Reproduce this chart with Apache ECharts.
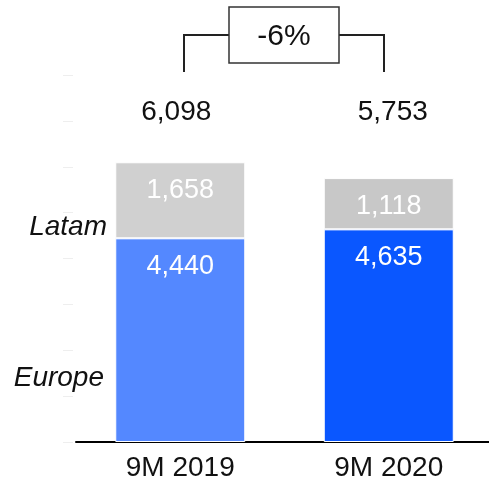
<!DOCTYPE html>
<html>
<head>
<meta charset="utf-8">
<script src="https://cdn.jsdelivr.net/npm/echarts@6/dist/echarts.min.js"></script>
<style>
  html, body { margin: 0; padding: 0; background: #fff; }
  #chart { width: 489px; height: 483px; }
</style>
</head>
<body>
<div id="chart"></div>
<script>
// data
const categories = ['9M 2019', '9M 2020'];
const europe = [4440, 4635];
const latam = [1658, 1118];
const totals = [6098, 5753];

// per-bar colours
const europeColors = ['#5488FF', '#0A57FF'];
const latamColors = ['#D0D0D0', '#C8C8C8'];

const FONT = "'Liberation Sans', Arial, sans-serif";
const fmt = v => v.toLocaleString('en-US');

const chart = echarts.init(document.getElementById('chart'));

const segLabel = {
    show: true,
    position: 'insideTop',
    distance: 15,
    color: '#fff',
    fontSize: 27,
    fontFamily: FONT,
    formatter: p => fmt(p.value)
};

chart.setOption({
    animation: false,
    grid: { left: 76, right: -4, top: 75, bottom: 41, outerBoundsMode: 'none' },
    xAxis: {
        type: 'category',
        data: categories,
        axisTick: { show: false },
        axisLine: { lineStyle: { color: '#000', width: 2 } },
        axisLabel: { color: '#111', fontSize: 28, fontFamily: FONT, margin: 12 }
    },
    yAxis: {
        type: 'value',
        min: 0,
        max: 8000,
        interval: 1000,
        offset: 3,
        axisLine: { show: false },
        axisLabel: { show: false },
        splitLine: { show: false },
        axisTick: { show: true, length: 10, lineStyle: { color: '#eeeeee' } }
    },
    series: [
        {
            name: 'Europe',
            type: 'bar',
            stack: 'total',
            barWidth: 130,
            data: europe.map((v, i) => ({ value: v, itemStyle: { color: europeColors[i] } })),
            itemStyle: { borderColor: '#fff', borderWidth: 1 },
            label: segLabel
        },
        {
            name: 'Latam',
            type: 'bar',
            stack: 'total',
            barWidth: 130,
            data: latam.map((v, i) => ({ value: v, itemStyle: { color: latamColors[i] } })),
            itemStyle: { borderColor: '#fff', borderWidth: 1 },
            label: segLabel
        }
    ]
});

// totals row, side labels and the change bracket
const change = Math.round((totals[1] / totals[0] - 1) * 100);
const totalShift = [-4, 4];
const graphics = totals.map((t, i) => ({
    type: 'text',
    x: chart.convertToPixel({ xAxisIndex: 0 }, categories[i]) + totalShift[i],
    y: 112,
    style: {
        text: fmt(t), fill: '#111', font: '28px ' + FONT,
        align: 'center', verticalAlign: 'middle'
    }
}));
graphics.push(
    { type: 'text', x: 107, y: 227, style: { text: 'Latam', fill: '#111', font: 'italic 28px ' + FONT, align: 'right', verticalAlign: 'middle' } },
    { type: 'text', x: 104, y: 378, style: { text: 'Europe', fill: '#111', font: 'italic 28px ' + FONT, align: 'right', verticalAlign: 'middle' } },
    { type: 'polyline', shape: { points: [[184, 72], [184, 35], [229, 35]] }, style: { stroke: '#222', lineWidth: 2, fill: null } },
    { type: 'polyline', shape: { points: [[339, 35], [384, 35], [384, 72]] }, style: { stroke: '#222', lineWidth: 2, fill: null } },
    { type: 'rect', shape: { x: 229, y: 7, width: 110, height: 56 }, style: { stroke: '#333', lineWidth: 1.5, fill: '#fff' } },
    { type: 'text', x: 284, y: 37, style: { text: change + '%', fill: '#111', font: '30px ' + FONT, align: 'center', verticalAlign: 'middle' } }
);
chart.setOption({ graphic: graphics });
</script>
</body>
</html>
